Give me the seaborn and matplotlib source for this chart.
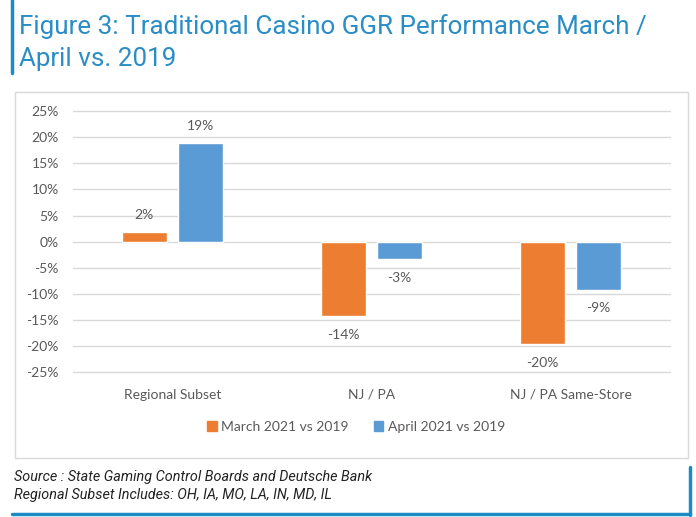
import matplotlib
matplotlib.use("Agg")
import matplotlib.pyplot as plt
import numpy as np
import pandas as pd
import seaborn as sns
from matplotlib.patches import Rectangle
from matplotlib.lines import Line2D

categories = ["Regional Subset", "NJ / PA", "NJ / PA Same-Store"]
series_names = ["March 2021 vs 2019", "April 2021 vs 2019"]
march_values = [1.8, -14.3, -19.6]
april_values = [18.9, -3.4, -9.2]
march_labels = ["2%", "-14%", "-20%"]
april_labels = ["19%", "-3%", "-9%"]
y_ticks = [25, 20, 15, 10, 5, 0, -5, -10, -15, -20, -25]

ORANGE = "#ED7D31"
BLUE = "#5B9BD5"
TEXT = "#595959"
TITLE_BLUE = "#2A8DC5"
BAR_BLUE = "#1B8BC6"

df = pd.DataFrame({
    "category": categories * 2,
    "series": [series_names[0]] * 3 + [series_names[1]] * 3,
    "value": march_values + april_values,
    "label": march_labels + april_labels,
})

sns.set_theme(style="white")
plt.rcParams["font.family"] = ["Lato", "DejaVu Sans"]

W, H = 696, 517
fig = plt.figure(figsize=(W / 100, H / 100), dpi=100)


def fx(px):
    return px / W


def fy(py):
    return 1 - py / H


ax = fig.add_axes([fx(72.7), fy(372.3), fx(670 - 72.7), (372.3 - 111) / H])
sns.barplot(
    data=df, x="category", y="value", hue="series",
    palette=[ORANGE, BLUE], width=0.566, gap=0.2, saturation=1,
    legend=False, ax=ax,
)

ax.set_ylim(-25, 25)
ax.set_yticks(y_ticks)
ax.set_yticklabels([f"{t}%" for t in y_ticks])
ax.set_xlabel("")
ax.set_ylabel("")
for s in ax.spines.values():
    s.set_visible(False)
ax.yaxis.grid(True, color="#D9D9D9", linewidth=1)
ax.set_axisbelow(True)
ax.tick_params(axis="y", length=0, pad=10, labelsize=10, colors=TEXT)
ax.tick_params(axis="x", length=0, pad=12, labelsize=10, colors=TEXT)
for gl in ax.get_ygridlines():
    gl.set_clip_on(False)

# value labels above positive bars, below negative ones
for container, labels in zip(ax.containers, [march_labels, april_labels]):
    for patch, lab in zip(container.patches, labels):
        h = patch.get_height()
        xc = patch.get_x() + patch.get_width() / 2
        off = 12.5 if h >= 0 else -13.5
        ax.annotate(lab, (xc, h), xytext=(0, off), textcoords="offset points",
                    ha="center", va="center", fontsize=10, color=TEXT)

# legend
handles = [Rectangle((0, 0), 1, 1, color=c) for c in [ORANGE, BLUE]]
fig.legend(handles, series_names, loc="center", bbox_to_anchor=(fx(356), fy(427)),
           ncol=2, frameon=False, fontsize=10, handlelength=0.7, handleheight=0.7,
           handletextpad=0.3, columnspacing=1.8, labelcolor=TEXT)

# chart frame
fig.patches.append(Rectangle((fx(15), fy(458)), fx(688 - 15), (458 - 92) / H,
                             transform=fig.transFigure, fill=False,
                             edgecolor="#D9D9D9", linewidth=1))

# title
fig.text(fx(19), fy(27), "Figure 3: Traditional Casino GGR Performance March /",
         fontsize=18.7, color=TITLE_BLUE, va="center", ha="left",
         family=["Roboto", "DejaVu Sans"])
fig.text(fx(19), fy(59), "April vs. 2019",
         fontsize=18.7, color=TITLE_BLUE, va="center", ha="left",
         family=["Roboto", "DejaVu Sans"])
fig.lines.append(Line2D([fx(11.5), fx(11.5)], [fy(0), fy(73)], transform=fig.transFigure,
                        color=BAR_BLUE, linewidth=2.5))

# source notes
fig.text(fx(14), fy(477), "Source : State Gaming Control Boards and Deutsche Bank",
         fontsize=10.4, style="italic", color="#222222", va="center", ha="left",
         family=["Roboto", "DejaVu Sans"])
fig.text(fx(14), fy(495), "Regional Subset Includes: OH, IA, MO, LA, IN, MD, IL",
         fontsize=10.4, style="italic", color="#222222", va="center", ha="left",
         family=["Roboto", "DejaVu Sans"])
fig.lines.append(Line2D([fx(12), fx(690)], [fy(514), fy(514)], transform=fig.transFigure,
                        color=BAR_BLUE, linewidth=2.5))
fig.lines.append(Line2D([fx(689.5), fx(689.5)], [fy(467), fy(515)], transform=fig.transFigure,
                        color=BAR_BLUE, linewidth=2.5))

fig.savefig("out.png", dpi=100)
